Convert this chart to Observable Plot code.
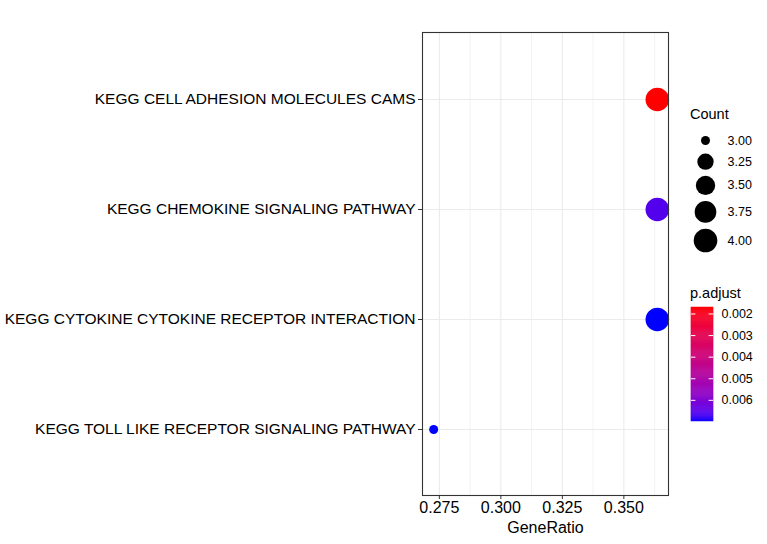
<!DOCTYPE html>
<html>
<head>
<meta charset="utf-8">
<script src="https://cdn.jsdelivr.net/npm/d3@7"></script>
<script src="https://cdn.jsdelivr.net/npm/@observablehq/plot@0.6"></script>
<style>
  html, body { margin: 0; padding: 0; background: #fff; }
  #wrap { position: relative; width: 767px; height: 544px; font-family: "Liberation Sans", Arial, sans-serif; color: #000; }
  #wrap svg { font-family: "Liberation Sans", Arial, sans-serif; }
  .abs { position: absolute; }
  .ltitle { position: absolute; font-size: 14.5px; line-height: 1; }
</style>
</head>
<body>
<div id="wrap"></div>
<script>
// ---- data ----
const terms = [
  "KEGG CELL ADHESION MOLECULES CAMS",
  "KEGG CHEMOKINE SIGNALING PATHWAY",
  "KEGG CYTOKINE CYTOKINE RECEPTOR INTERACTION",
  "KEGG TOLL LIKE RECEPTOR SIGNALING PATHWAY"
];
const geneRatio = [0.3636, 0.3636, 0.3636, 0.2727];
const counts = [4, 4, 4, 3];
const pAdjust = [0.0017, 0.0066, 0.00698, 0.00698];
const xTicks = [0.275, 0.300, 0.325, 0.350];
const xMinorTicks = [0.2875, 0.3125, 0.3375, 0.3625];
const sizeBreaks = [3.00, 3.25, 3.50, 3.75, 4.00];
const colorBreaks = [0.002, 0.003, 0.004, 0.005, 0.006];

const data = terms.map((t, i) => ({term: t, ratio: geneRatio[i], count: counts[i], padj: pAdjust[i]}));

// ---- scales ----
const [xmin, xmax] = d3.extent(geneRatio);
const xpad = (xmax - xmin) * 0.05;
const [cmin, cmax] = d3.extent(counts);
const [pmin, pmax] = d3.extent(pAdjust);
const rScale = {type: "linear", transform: c => Math.sqrt((c - cmin) / (cmax - cmin)), domain: [0, 1], range: [4.5, 11.8], clamp: true};
const colorScale = {type: "linear", domain: [pmin, pmax], range: ["red", "blue"], interpolate: "lab"};

const W = 767, H = 544;
const wrap = document.getElementById("wrap");

const main = Plot.plot({
  width: W, height: H,
  marginLeft: 422, marginRight: 99, marginTop: 32, marginBottom: 49,
  style: {fontSize: "15.5px", color: "#000", background: "transparent"},
  x: {domain: [xmin - xpad, xmax + xpad]},
  y: {type: "point", domain: terms, padding: 0.6},
  r: rScale,
  color: colorScale,
  marks: [
    Plot.gridX(xMinorTicks, {stroke: "#ebebeb", strokeOpacity: 1, strokeWidth: 0.6}),
    Plot.gridX(xTicks, {stroke: "#ebebeb", strokeOpacity: 1, strokeWidth: 1.1}),
    Plot.gridY(terms, {stroke: "#ebebeb", strokeOpacity: 1, strokeWidth: 1.1}),
    Plot.dot(data, {x: "ratio", y: "term", r: "count", fill: "padj", stroke: null}),
    Plot.frame({stroke: "#333", strokeWidth: 1.1}),
    Plot.axisX(xTicks, {tickFormat: d3.format(".3f"), tickSize: 4, tickPadding: 2, stroke: "#333", fontSize: 16,
      label: "GeneRatio", labelAnchor: "center", labelArrow: "none", labelOffset: 37}),
    Plot.axisY({tickSize: 4, tickPadding: 3, stroke: "#333", fontSize: 15.5, label: null})
  ]
});
wrap.appendChild(main);

// ---- size legend ----
const radius = c => rScale.range[0] + (rScale.range[1] - rScale.range[0]) * rScale.transform(c);
let acc = 0; const rows = [];
sizeBreaks.forEach((b, i) => {
  const h = Math.max(20, 2 * radius(b) + 6);
  if (i === 0) acc = 20; else acc += (rows[i - 1].h + h) / 2;
  rows.push({b, h, y: acc});
});
const sizeLegend = Plot.plot({
  width: 87, height: 140, margin: 0,
  style: {fontSize: "12.5px", color: "#000", background: "transparent"},
  x: {type: "identity", axis: null}, y: {type: "identity", axis: null},
  r: rScale,
  marks: [
    Plot.dot(rows, {x: 25, y: "y", r: "b", fill: "black"}),
    Plot.text(rows, {x: 47, y: "y", text: d => d3.format(".2f")(d.b), textAnchor: "start", fill: "black"})
  ]
});
sizeLegend.classList.add("abs");
sizeLegend.style.left = "680px"; sizeLegend.style.top = "120px";
wrap.appendChild(sizeLegend);

const t1 = document.createElement("div");
t1.className = "ltitle"; t1.textContent = "Count";
t1.style.left = "690px"; t1.style.top = "107px";
wrap.appendChild(t1);

// ---- color bar ----
const N = 120;
const steps = d3.range(N).map(i => ({y1: pmin + (pmax - pmin) * i / N, y2: pmin + (pmax - pmin) * (i + 1) / N}));
const colorLegend = Plot.plot({
  width: 87, height: 130, margin: 0,
  style: {fontSize: "12.5px", color: "#000", background: "transparent"},
  x: {domain: [0, 1], range: [11, 33], axis: null},
  y: {domain: [pmin, pmax], range: [7, 121], axis: null},
  color: colorScale,
  marks: [
    Plot.rect(steps, {x1: 0, x2: 1, y1: "y1", y2: "y2", fill: d => (d.y1 + d.y2) / 2, stroke: d => (d.y1 + d.y2) / 2, strokeWidth: 0.5}),
    Plot.ruleY(colorBreaks, {x1: 0, x2: 0.2, stroke: "white", strokeWidth: 1}),
    Plot.ruleY(colorBreaks, {x1: 0.8, x2: 1, stroke: "white", strokeWidth: 1}),
    Plot.text(colorBreaks, {x: 1, y: d => d, dx: 8, text: d => d3.format(".3f")(d), textAnchor: "start", fill: "black"})
  ]
});
colorLegend.classList.add("abs");
colorLegend.style.left = "680px"; colorLegend.style.top = "300px";
wrap.appendChild(colorLegend);

const t2 = document.createElement("div");
t2.className = "ltitle"; t2.textContent = "p.adjust";
t2.style.left = "690px"; t2.style.top = "286px";
wrap.appendChild(t2);
</script>
</body>
</html>
